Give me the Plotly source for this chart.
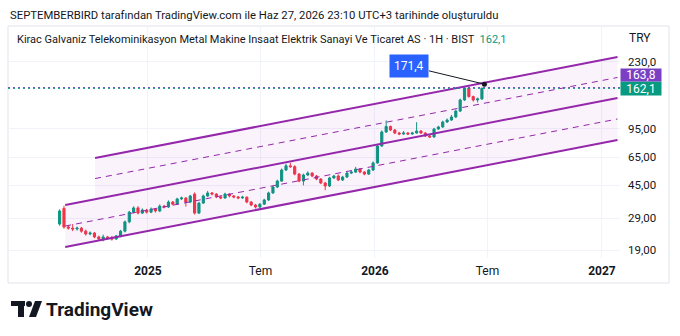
import math
import pandas as pd
import plotly.graph_objects as go

W, H = 680, 336
L, R, T, B = 8, 620, 25, 258  # plot area box in pixels

# ---------------- data (weekly candles) ----------------
first_week = "2024-08-12"
opens = [26.8, 33.0, 25.8, 25.4, 25.1, 25.4, 24.4, 23.5, 23.8, 22.6,
         22.0, 22.6, 22.3, 22.0, 22.9, 24.4, 27.6, 31.4, 33.2, 31.0,
         32.3, 31.4, 32.7, 31.9, 34.0, 33.6, 35.9, 34.9, 37.4, 37.9,
         35.9, 39.9, 31.0, 35.4, 38.9, 40.5, 39.9, 38.4, 37.9, 39.9,
         38.9, 38.4, 37.9, 38.3, 35.9, 34.5, 33.6, 34.9, 36.9, 40.5,
         43.8, 47.4, 54.9, 58.0, 57.4, 52.0, 47.4, 51.4, 52.7, 50.7,
         48.7, 46.2, 44.4, 49.4, 50.7, 48.1, 50.0, 52.7, 53.4, 55.6,
         53.4, 52.0, 54.9, 60.3, 75.5, 90.9, 97.8, 93.3, 89.7, 88.5,
         89.7, 88.5, 89.7, 92.1, 89.7, 86.2, 85.1, 94.6, 97.2, 103.8,
         106.6, 110.9, 120.0, 139.0, 163.0, 145.4, 139.0, 141.0]
highs = [32.6, 34.2, 26.5, 26.8, 25.9, 25.8, 24.9, 24.3, 24.1, 23.0,
         23.3, 22.9, 22.9, 23.2, 24.8, 28.1, 31.9, 33.9, 34.0, 33.0,
         32.8, 33.4, 33.1, 34.8, 34.6, 36.7, 36.4, 38.0, 38.6, 38.3,
         39.5, 40.8, 36.0, 39.6, 41.6, 41.0, 40.4, 39.0, 40.6, 40.4,
         39.4, 38.9, 39.0, 38.7, 36.4, 35.0, 35.4, 37.5, 41.2, 44.6,
         48.3, 56.0, 59.6, 60.4, 58.5, 52.8, 52.3, 53.9, 53.4, 51.4,
         49.3, 46.9, 50.2, 51.5, 51.8, 50.8, 53.6, 54.3, 57.2, 56.3,
         54.2, 55.7, 61.5, 77.0, 92.8, 106.0, 99.0, 94.6, 91.0, 92.0,
         90.8, 91.2, 103.5, 93.2, 90.6, 87.3, 96.0, 98.6, 105.6, 108.7,
         114.0, 122.5, 141.5, 166.0, 165.5, 147.2, 143.5, 164.0]
lows = [26.2, 25.2, 24.9, 24.4, 24.6, 23.9, 23.0, 23.1, 22.2, 21.6,
        21.3, 21.9, 21.5, 21.7, 22.5, 24.0, 27.1, 30.9, 30.5, 30.6,
        30.8, 31.0, 31.2, 31.4, 33.0, 33.2, 34.3, 34.5, 36.9, 33.8,
        35.4, 30.4, 30.6, 35.0, 38.3, 39.2, 37.8, 37.3, 37.5, 38.2,
        37.7, 37.3, 37.4, 35.3, 34.0, 33.0, 33.1, 34.5, 36.4, 40.0,
        43.2, 46.9, 54.2, 56.5, 51.2, 46.7, 44.8, 50.6, 50.0, 48.0,
        45.5, 42.0, 43.8, 48.8, 47.4, 47.5, 49.4, 52.0, 52.8, 52.6,
        51.2, 51.4, 54.2, 59.6, 74.6, 89.8, 92.0, 88.4, 87.2, 87.5,
        87.3, 87.6, 88.8, 88.5, 85.0, 83.9, 84.2, 93.4, 96.0, 102.5,
        105.2, 109.6, 118.5, 137.2, 143.0, 136.0, 134.5, 139.0]
closes = [31.9, 25.8, 25.4, 25.1, 25.4, 24.4, 23.5, 23.8, 22.6, 22.0,
          22.6, 22.3, 22.0, 22.9, 24.4, 27.6, 31.4, 33.2, 31.0, 32.3,
          31.4, 32.7, 31.9, 34.0, 33.6, 35.9, 34.9, 37.4, 37.9, 35.9,
          38.9, 31.0, 35.4, 38.9, 40.5, 39.9, 38.4, 37.9, 39.9, 38.9,
          38.4, 37.9, 38.3, 35.9, 34.5, 33.6, 34.9, 36.9, 40.5, 43.8,
          47.4, 54.9, 58.0, 57.4, 52.0, 47.4, 51.4, 52.7, 50.7, 48.7,
          46.2, 44.4, 49.4, 50.7, 48.1, 50.0, 52.7, 53.4, 55.6, 53.4,
          52.0, 54.9, 60.3, 75.5, 90.9, 97.8, 93.3, 89.7, 88.5, 89.7,
          88.5, 89.7, 92.1, 89.7, 86.2, 85.1, 94.6, 97.2, 103.8, 106.6,
          110.9, 120.0, 139.0, 163.0, 145.4, 139.0, 141.0, 162.1]
dates = pd.date_range(first_week, periods=len(closes), freq="7D")

# ---------------- channel drawings ----------------
lower_ch_dates = ["2024-08-21", "2027-01-26"]
lower_ch_top = [34.5, 142.7]
lower_ch_mid = [26.1, 108.0]
lower_ch_bot = [19.8, 81.7]
upper_ch_dates = ["2024-10-08", "2027-01-26"]
upper_ch_top = [64.4, 245.8]
upper_ch_mid = [49.0, 187.3]
upper_ch_bot = [37.3, 142.7]

callout_date = "2026-06-26"
callout_value = 171.4
purple_level = 163.8

x_range = ["2024-05-21", "2027-01-30"]
x_ticks = ["2025-01-01", "2025-07-01", "2026-01-01", "2026-07-01", "2027-01-01"]
x_ticktext = ["<b>2025</b>", "Tem", "<b>2026</b>", "Tem", "<b>2027</b>"]
y_ticks = [19, 29, 45, 65, 95, 230]
y_ticktext = ["19,00", "29,00", "45,00", "65,00", "95,00", "230,0"]

title_text = "SEPTEMBERBIRD tarafından TradingView.com ile Haz 27, 2026 23:10 UTC+3 tarihinde oluşturuldu"
symbol_text = "Kirac Galvaniz Telekominikasyon Metal Makine Insaat Elektrik Sanayi Ve Ticaret AS · 1H · BIST"

GREEN = "#089981"
RED = "#f23645"
PURPLE = "#9527ab"
LABEL_PURPLE = "#7b3fc4"
FILL = "rgba(156,39,176,0.055)"
TXT = "#131722"
FONT = "Roboto"


def px(x):
    return (x - L) / (R - L)


def py(y):
    return (B - y) / (B - T)


fig = go.Figure()

# channel fills
for d, top, bot in [(lower_ch_dates, lower_ch_top, lower_ch_bot),
                    (upper_ch_dates, upper_ch_top, upper_ch_bot)]:
    fig.add_trace(go.Scatter(x=[d[0], d[1], d[1], d[0]],
                             y=[top[0], top[1], bot[1], bot[0]],
                             fill="toself", fillcolor=FILL, mode="none",
                             hoverinfo="skip", showlegend=False))

# channel lines
for d, vals, dash, wid in [(lower_ch_dates, lower_ch_bot, "solid", 2),
                           (lower_ch_dates, lower_ch_mid, "6px,5px", 1),
                           (lower_ch_dates, lower_ch_top, "solid", 2),
                           (upper_ch_dates, upper_ch_mid, "6px,5px", 1),
                           (upper_ch_dates, upper_ch_top, "solid", 2)]:
    fig.add_trace(go.Scatter(x=d, y=vals, mode="lines",
                             line=dict(color=PURPLE, width=wid, dash=dash),
                             hoverinfo="skip", showlegend=False))

# dotted price lines
fig.add_trace(go.Scatter(x=x_range, y=[purple_level, purple_level], mode="lines",
                         line=dict(color=LABEL_PURPLE, width=1, dash="2px,3px"),
                         hoverinfo="skip", showlegend=False))
fig.add_trace(go.Scatter(x=x_range, y=[closes[-1], closes[-1]], mode="lines",
                         line=dict(color=GREEN, width=1, dash="2px,3px"),
                         hoverinfo="skip", showlegend=False))

# candles
fig.add_trace(go.Candlestick(
    x=dates, open=opens, high=highs, low=lows, close=closes,
    increasing=dict(line=dict(color=GREEN, width=1), fillcolor=GREEN),
    decreasing=dict(line=dict(color=RED, width=1), fillcolor=RED),
    whiskerwidth=0, showlegend=False))

# callout anchor dot
fig.add_trace(go.Scatter(x=[callout_date], y=[callout_value], mode="markers",
                         marker=dict(color=TXT, size=5), hoverinfo="skip",
                         showlegend=False))


def fmt1(v):
    return f"{v:.1f}".replace(".", ",")


annotations = [
    dict(text=title_text, xref="paper", yref="paper", x=px(8), y=py(15),
         xanchor="left", yanchor="middle", showarrow=False,
         font=dict(family=FONT, size=11.3, color=TXT)),
    dict(text=symbol_text + "  <span style='color:%s'>%s</span>" % (GREEN, fmt1(closes[-1])),
         xref="paper", yref="paper", x=px(15), y=py(39),
         xanchor="left", yanchor="middle", showarrow=False,
         font=dict(family=FONT, size=11, color=TXT)),
    dict(text="TRY", xref="paper", yref="paper", x=px(640), y=py(38),
         xanchor="center", yanchor="middle", showarrow=False,
         font=dict(family=FONT, size=12, color=TXT)),
    dict(text=fmt1(closes[-1]), xref="paper", yref="y",
         x=1, y=math.log10(closes[-1]), xanchor="left", yanchor="middle",
         showarrow=False, bgcolor=GREEN, borderpad=0, width=40, height=13,
         font=dict(family=FONT, size=12, color="white")),
    dict(text=fmt1(purple_level), xref="paper", yref="y",
         x=1, y=math.log10(purple_level), yshift=12.5, xanchor="left", yanchor="middle",
         showarrow=False, bgcolor=LABEL_PURPLE, borderpad=0, width=40, height=12,
         font=dict(family=FONT, size=12, color="white")),
    dict(text=fmt1(callout_value), x=callout_date,
         y=math.log10(callout_value), showarrow=True, arrowhead=0,
         arrowwidth=1, arrowcolor=TXT, ax=-75, ay=-18, bgcolor="#2962ff",
         borderpad=4, font=dict(family=FONT, size=12, color="white")),
    dict(text="<b>TradingView</b>", xref="paper", yref="paper", x=px(44), y=py(309),
         xanchor="left", yanchor="middle", showarrow=False,
         font=dict(family=FONT, size=19, color=TXT)),
]

shapes = [
    dict(type="rect", xref="paper", yref="paper", x0=px(8), x1=px(669),
         y0=py(283), y1=py(26), line=dict(color="#e0e3eb", width=1), layer="below"),
    # logo mark
    dict(type="rect", xref="paper", yref="paper", x0=px(11), x1=px(25),
         y0=py(306), y1=py(301), fillcolor=TXT, line=dict(width=0)),
    dict(type="rect", xref="paper", yref="paper", x0=px(18), x1=px(24),
         y0=py(317), y1=py(301), fillcolor=TXT, line=dict(width=0)),
    dict(type="circle", xref="paper", yref="paper", x0=px(26), x1=px(32),
         y0=py(307), y1=py(301), fillcolor=TXT, line=dict(width=0)),
    dict(type="path", xref="paper", yref="paper",
         path="M %f %f L %f %f L %f %f L %f %f Z" % (px(35), py(301), px(42), py(301),
                                                    px(36), py(317), px(29), py(317)),
         fillcolor=TXT, line=dict(width=0)),
]

fig.update_layout(
    width=W, height=H,
    margin=dict(l=L, r=W - R, t=T, b=H - B, pad=0),
    paper_bgcolor="white", plot_bgcolor="white",
    showlegend=False,
    font=dict(family=FONT, color=TXT),
    annotations=annotations, shapes=shapes,
    xaxis=dict(type="date", range=x_range, tickvals=x_ticks, ticktext=x_ticktext,
               showgrid=True, gridcolor="#f0f3fa", zeroline=False, showline=False,
               ticks="", ticklabelstandoff=4,
               tickfont=dict(family=FONT, size=12, color=TXT),
               rangeslider=dict(visible=False), fixedrange=True),
    yaxis=dict(type="log", range=[1.2327, 2.5748], side="right", tickvals=y_ticks,
               ticktext=y_ticktext, showgrid=True, gridcolor="#f0f3fa",
               zeroline=False, showline=False, ticks="", ticklabelstandoff=7,
               tickfont=dict(family=FONT, size=11.5, color=TXT), fixedrange=True),
)

fig.write_html("out.html")
